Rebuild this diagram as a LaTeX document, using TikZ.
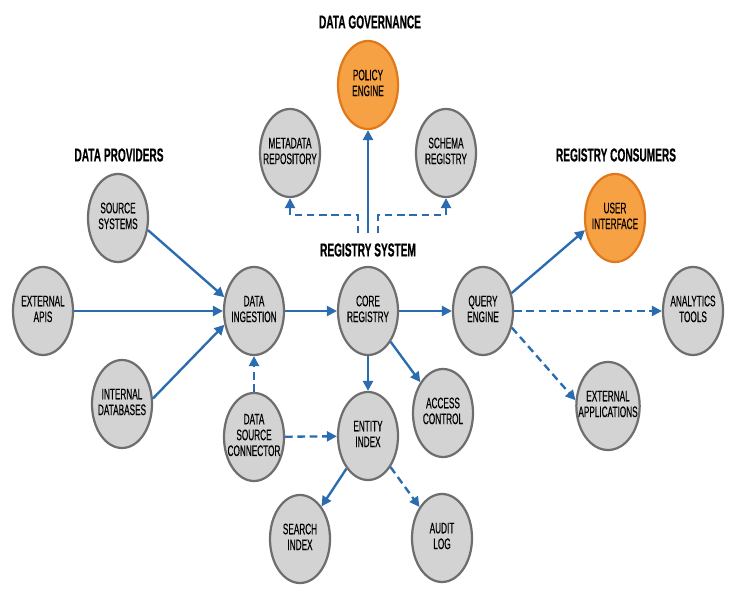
\documentclass[tikz,border=0pt]{standalone}
\usepackage{fontspec}
\setmainfont{Liberation Sans}[FakeStretch=0.54, FakeBold=0.4]
\usepackage{tikz}
\usetikzlibrary{arrows.meta,positioning,shapes.geometric}
\definecolor{flowblue}{HTML}{2B6CB0}
\definecolor{compedge}{HTML}{6E6E6E}
\definecolor{compfill}{HTML}{D3D3D3}
\definecolor{hotedge}{HTML}{E0791C}
\definecolor{hotfill}{HTML}{F6A244}
\newcommand{\nodetext}[1]{\makebox[0pt]{\begin{tabular}{@{}c@{}}#1\end{tabular}}}

\begin{document}
\begin{tikzpicture}[x=0.03cm, y=-0.03cm,
  every node/.style={font=\fontsize{13}{13.5}\selectfont},
  comp/.style={ellipse, draw=compedge, line width=1.9pt, fill=compfill,
               minimum width=1.8cm, minimum height=2.64cm, inner sep=0pt},
  hot/.style={comp, draw=hotedge, fill=hotfill},
  grp/.style={font=\bfseries\fontsize{16}{17}\selectfont},
  arr/.style={-{Triangle[length=8.5pt,width=8.5pt]}, line width=2pt, flowblue},
  dasharr/.style={arr, dash pattern=on 6.5pt off 4pt}
]
\useasboundingbox (0,0) rectangle (737,597);
\fill[white] (0,0) rectangle (737,597);

% Group titles
\node[grp] (govtitle)  at (370,22)  {DATA GOVERNANCE};
\node[grp] (provtitle) at (119,155) {DATA PROVIDERS};
\node[grp, inner ysep=8.5pt] (regsys) at (368,250) {REGISTRY SYSTEM};
\node[grp] (constitle) at (616,155) {REGISTRY CONSUMERS};

% Data governance
\node[hot]  (policy) at (368,85)  {\nodetext{POLICY\\ENGINE}};
\node[comp] (meta)   at (290,153) {\nodetext{METADATA\\REPOSITORY}};
\node[comp] (schema) at (446,153) {\nodetext{SCHEMA\\REGISTRY}};

% Data providers
\node[comp] (srcsys) at (118,218) {\nodetext{SOURCE\\SYSTEMS}};
\node[comp] (extapi) at (43,311)  {\nodetext{EXTERNAL\\APIS}};
\node[comp] (intdb)  at (122,404) {\nodetext{INTERNAL\\DATABASES}};

% Registry system
\node[comp] (ingest)    at (254,311) {\nodetext{DATA\\INGESTION}};
\node[comp] (core)      at (368,311) {\nodetext{CORE\\REGISTRY}};
\node[comp] (query)     at (483,311) {\nodetext{QUERY\\ENGINE}};
\node[comp] (connector) at (254,437) {\nodetext{DATA\\SOURCE\\CONNECTOR}};
\node[comp] (entity)    at (368,436) {\nodetext{ENTITY\\INDEX}};
\node[comp] (access)    at (443,413) {\nodetext{ACCESS\\CONTROL}};
\node[comp] (search)    at (300,539) {\nodetext{SEARCH\\INDEX}};
\node[comp] (audit)     at (442,538) {\nodetext{AUDIT\\LOG}};

% Registry consumers
\node[hot]  (ui)        at (615,218) {\nodetext{USER\\INTERFACE}};
\node[comp] (analytics) at (693,311) {\nodetext{ANALYTICS\\TOOLS}};
\node[comp, minimum width=1.9cm] (extapp) at (608,406) {\nodetext{EXTERNAL\\APPLICATIONS}};

% Governance links
\draw[arr] (regsys.north) -- (policy.south);
\draw[dasharr] ([xshift=-0.3cm]regsys.north) -- ++(0,-18) -| (meta.south);
\draw[dasharr] ([xshift=0.3cm]regsys.north) -- ++(0,-18) -| (schema.south);

% Provider flows
\draw[arr] (srcsys.-22) -- (ingest.155);
\draw[arr] (extapi) -- (ingest);
\draw[arr] (intdb.10) -- (ingest.205);

% Main pipeline
\draw[arr] (ingest) -- (core);
\draw[arr] (core) -- (query);
\draw[arr] (core) -- (entity);
\draw[arr] (core) -- (access);
\draw[dasharr] (connector) -- (ingest);
\draw[dasharr] (connector) -- (entity);
\draw[arr] (entity) -- (search);
\draw[dasharr] (entity) -- (audit);

% Consumer flows
\draw[arr] (query.32) -- (ui.202);
\draw[dasharr] (query) -- (analytics);
\draw[dasharr] (query.-30) -- (extapp.170);
\end{tikzpicture}
\end{document}
